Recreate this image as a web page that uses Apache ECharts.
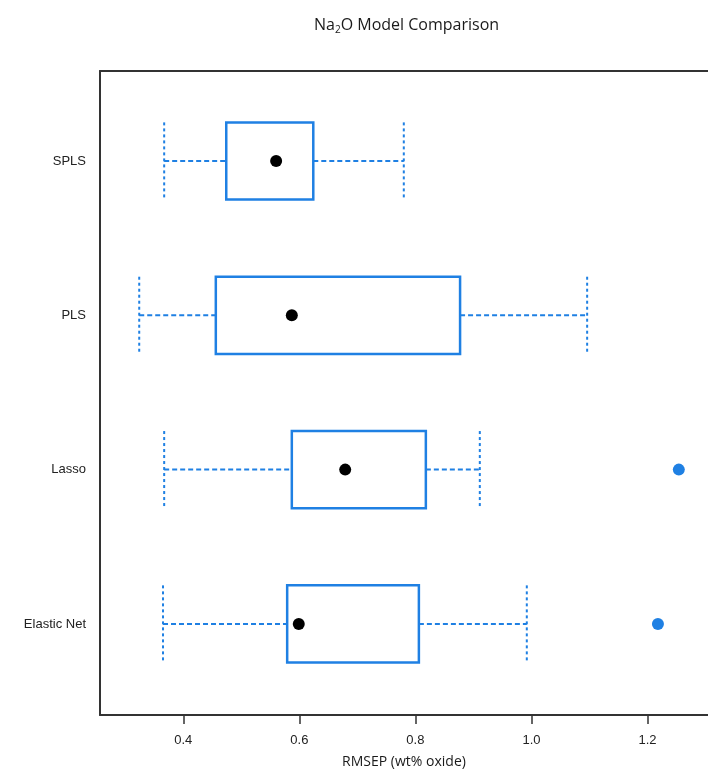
<!doctype html>
<html lang="en">
<head>
<meta charset="utf-8">
<title>Na2O Model Comparison</title>
<script src="https://cdn.jsdelivr.net/npm/echarts@6.0.0/dist/echarts.min.js"></script>
</head>
<body style="margin:0;">
<div id="main" style="width:708px; height:770px;"></div>
<script type="text/javascript">
// values (RMSEP, wt% oxide)
var categories = ['Elastic Net', 'Lasso', 'PLS', 'SPLS'];
var lowWhisker = [0.365, 0.367, 0.324, 0.367];
var q1 = [0.579, 0.587, 0.456, 0.474];
var median = [0.599, 0.679, 0.587, 0.560];
var q3 = [0.806, 0.818, 0.877, 0.624];
var highWhisker = [0.992, 0.911, 1.096, 0.780];
var outlierCats = ['Elastic Net', 'Lasso'];
var outlierValues = [1.218, 1.254];
var xTicks = [0.4, 0.6, 0.8, 1.0, 1.2];

var blue = '#1f80e3';
var axisColor = '#333';

var boxData = categories.map(function (c, i) {
    return [i + 1, lowWhisker[i], q1[i], median[i], q3[i], highWhisker[i]];
});
var outlierData = outlierCats.map(function (c, i) {
    return [outlierValues[i], categories.indexOf(c) + 1];
});

function renderBox(params, api) {
    var y = api.value(0);
    var pLow = api.coord([api.value(1), y]);
    var pQ1 = api.coord([api.value(2), y]);
    var pMed = api.coord([api.value(3), y]);
    var pQ3 = api.coord([api.value(4), y]);
    var pHigh = api.coord([api.value(5), y]);
    var h = api.size([0, 0.5])[1];
    var cy = pMed[1];
    var dash = { stroke: blue, lineWidth: 2, lineDash: [5, 3], fill: null };
    var dot = { stroke: blue, lineWidth: 2, lineDash: [3, 3], fill: null };
    return {
        type: 'group',
        children: [
            { type: 'line', shape: { x1: pLow[0], y1: cy, x2: pQ1[0], y2: cy }, style: dash },
            { type: 'line', shape: { x1: pQ3[0], y1: cy, x2: pHigh[0], y2: cy }, style: dash },
            { type: 'line', shape: { x1: pLow[0], y1: cy - h / 2, x2: pLow[0], y2: cy + h / 2 }, style: dot },
            { type: 'line', shape: { x1: pHigh[0], y1: cy - h / 2, x2: pHigh[0], y2: cy + h / 2 }, style: dot },
            {
                type: 'rect',
                shape: { x: pQ1[0], y: cy - h / 2, width: pQ3[0] - pQ1[0], height: h },
                style: { stroke: blue, lineWidth: 2.5, fill: '#fff' }
            },
            { type: 'circle', shape: { cx: pMed[0], cy: cy, r: 6 }, style: { fill: '#000' } }
        ]
    };
}

var chart = echarts.init(document.getElementById('main'));
var option = {
    backgroundColor: '#fff',
    animation: false,
    title: {
        text: '{a|Na}{s|2}{a|O Model Comparison}',
        left: 309,
        top: 11,
        textStyle: {
            fontWeight: 'normal',
            rich: {
                a: { fontFamily: 'Open Sans', fontSize: 16, fontWeight: 'normal', color: '#1a1a1a' },
                s: { fontFamily: 'Open Sans', fontSize: 10, fontWeight: 'normal', color: '#1a1a1a', padding: [9, 0, 0, 0] }
            }
        }
    },
    grid: { left: 100, top: 71, right: 0, bottom: 55, containLabel: false, outerBoundsMode: 'none' },
    xAxis: [{
        type: 'value',
        min: 0.2564,
        max: 1.3043,
        name: 'RMSEP (wt% oxide)',
        nameLocation: 'middle',
        nameGap: 40,
        nameTextStyle: { fontFamily: 'Open Sans', fontSize: 14, color: '#1a1a1a' },
        axisLine: { lineStyle: { color: axisColor, width: 2 } },
        axisTick: { show: true, inside: false, length: 9, customValues: xTicks, lineStyle: { color: axisColor, width: 1.5 } },
        axisLabel: {
            customValues: xTicks,
            margin: 19,
            fontFamily: 'Liberation Sans',
            fontSize: 13,
            color: '#222',
            formatter: function (v) { return v.toFixed(1); }
        },
        splitLine: { show: false }
    }, {
        type: 'value',
        position: 'top',
        min: 0.2564,
        max: 1.3043,
        axisLine: { show: true, lineStyle: { color: axisColor, width: 2 } },
        axisTick: { show: false },
        axisLabel: { show: false },
        splitLine: { show: false }
    }],
    yAxis: {
        type: 'value',
        min: 0.41,
        max: 4.583,
        axisLine: { show: true, lineStyle: { color: axisColor, width: 2 } },
        axisTick: { show: false },
        axisLabel: {
            customValues: [1, 2, 3, 4],
            margin: 14,
            fontFamily: 'Liberation Sans',
            fontSize: 13,
            color: '#222',
            formatter: function (v) { return categories[Math.round(v) - 1]; }
        },
        splitLine: { show: false }
    },
    series: [{
        type: 'custom',
        renderItem: renderBox,
        encode: { x: [1, 2, 3, 4, 5], y: 0 },
        data: boxData
    }, {
        type: 'scatter',
        symbolSize: 12,
        itemStyle: { color: blue, opacity: 1 },
        data: outlierData
    }]
};
chart.setOption(option);
</script>
</body>
</html>
